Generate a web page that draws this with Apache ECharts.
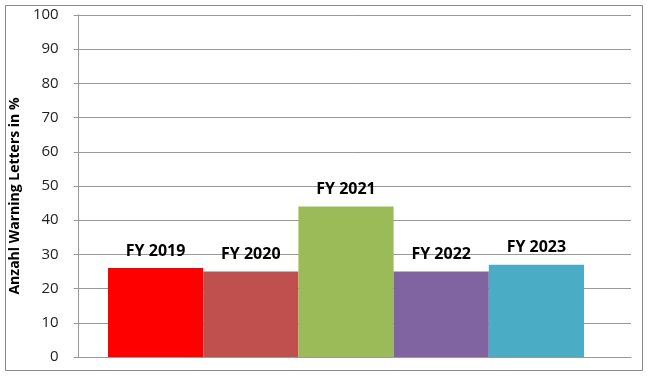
<!DOCTYPE html>
<html>
<head>
<meta charset="utf-8">
<script src="https://cdn.jsdelivr.net/npm/echarts@6/dist/echarts.min.js"></script>
<style>
  html, body { margin: 0; padding: 0; background: #fff; }
  #chart { width: 650px; height: 376px; }
</style>
</head>
<body>
<div id="chart"></div>
<script>
// data
const years = ['FY 2019', 'FY 2020', 'FY 2021', 'FY 2022', 'FY 2023'];
const shares = [26, 25, 44, 25, 27];
const barColors = ['#ff0000', '#c0504d', '#9bbb59', '#8064a2', '#4bacc6'];
const yTicks = [0, 10, 20, 30, 40, 50, 60, 70, 80, 90, 100];

const font = 'Open Sans';
const chart = echarts.init(document.getElementById('chart'));

chart.setOption({
  animation: false,
  // grid 0 carries the axes and gridlines, grid 1 the touching bars
  grid: [
    { left: 61, right: 19, top: 15, bottom: 19 },
    { left: 108, right: 66, top: 15, bottom: 19 }
  ],
  graphic: [{
    type: 'rect',
    shape: { x: 5.5, y: 5.5, width: 637, height: 365 },
    style: { fill: 'none', stroke: '#888', lineWidth: 1 },
    z: -1
  }],
  xAxis: [{
    gridIndex: 0,
    type: 'category',
    data: [''],
    axisLine: { lineStyle: { color: '#999' } },
    axisTick: { show: false },
    axisLabel: { show: false }
  }, {
    gridIndex: 1,
    type: 'category',
    data: years,
    show: false
  }],
  yAxis: [{
    gridIndex: 0,
    type: 'value',
    min: yTicks[0],
    max: yTicks[yTicks.length - 1],
    interval: 10,
    name: 'Anzahl Warning Letters in %',
    nameLocation: 'middle',
    nameGap: 31,
    nameTextStyle: { fontFamily: font, fontWeight: 'bold', fontSize: 14, color: '#000', padding: [0, 20, 0, 0] },
    axisLine: { show: true, lineStyle: { color: '#999' } },
    axisTick: { show: true, length: 5, lineStyle: { color: '#999' } },
    axisLabel: { fontFamily: font, fontSize: 15, color: '#222', margin: 20 },
    splitLine: { lineStyle: { color: '#999', width: 1 } }
  }, {
    gridIndex: 1,
    type: 'value',
    min: yTicks[0],
    max: yTicks[yTicks.length - 1],
    show: false,
    splitLine: { show: false }
  }],
  series: [{
    type: 'bar',
    xAxisIndex: 1,
    yAxisIndex: 1,
    barCategoryGap: '0%',
    data: shares.map((v, i) => ({ value: v, itemStyle: { color: barColors[i] } })),
    label: {
      show: true,
      position: 'top',
      distance: 9,
      formatter: '{b}',
      color: '#000',
      fontFamily: font,
      fontWeight: 'bold',
      fontSize: 16
    }
  }]
});
</script>
</body>
</html>
